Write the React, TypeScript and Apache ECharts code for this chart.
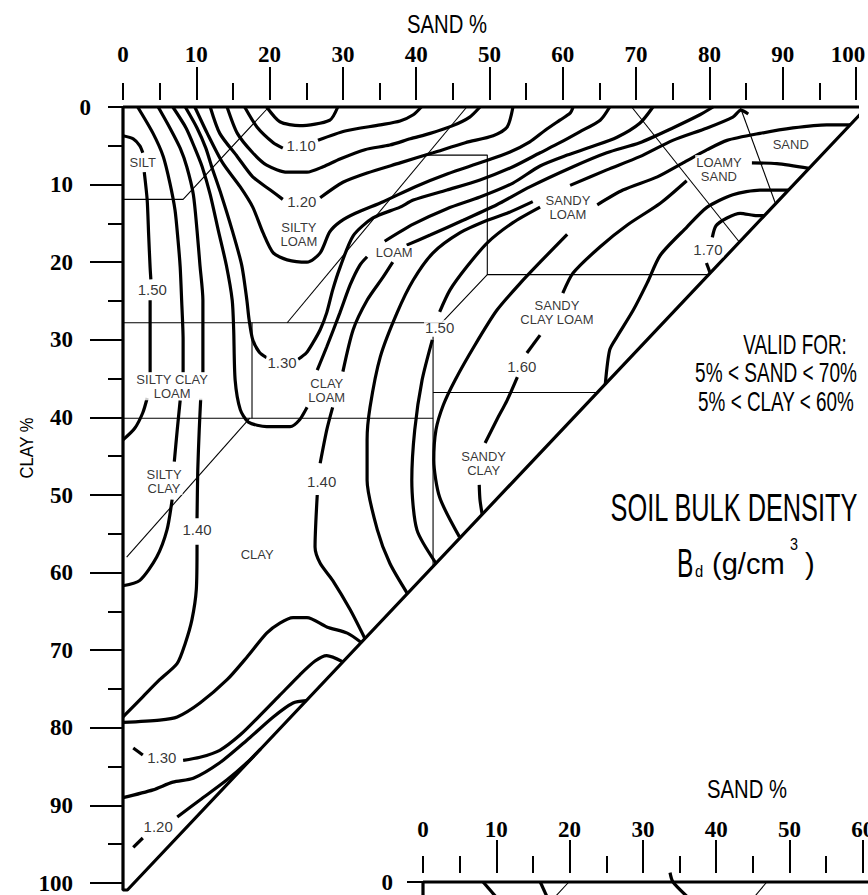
import React, { useEffect, useRef } from "react";
import * as echarts from "echarts";

// ---------- axis ticks ----------
const sandMajor = [10, 20, 30, 40, 50, 60, 70, 80, 90, 100];
const sandMinor = [0, 5, 15, 25, 35, 45, 55, 65, 75, 85, 95];
const sandLabels = [0, 10, 20, 30, 40, 50, 60, 70, 80, 90, 100];
const sandLabels2 = [0, 10, 20, 30, 40, 50, 60];
const clayMajor = [10, 20, 30, 40, 50, 60, 70, 80, 90, 100];
const clayMinor = [0, 5, 15, 25, 35, 45, 55, 65, 75, 85, 95];
const clayZero = [0];

// ---------- triangle outline (sand %, clay %) ----------
const outline = [[0, 0], [101.5, 0], [0.6, 100.9], [0, 100.9], [0, 0]];

// ---------- texture class boundaries (thin) ----------
const bSilt = [[0, 11.9], [8.2, 11.9], [19.9, 0]];
const bSiltLoam = [[46.9, 0], [22.4, 27.8]];
const bClayLoamTop = [[0, 27.8], [43.5, 27.8], [49.7, 21.6]];
const bLoamBox = [[41.6, 6.2], [49.7, 6.2], [49.7, 21.6], [79.9, 21.6]];
const bLoamySand = [[69.4, 0], [84.0, 17.3]];
const bSand = [[84.2, 0], [89.0, 12.4]];
const bSandyClayLoam = [[42.3, 36.8], [64.7, 36.8]];
const bSandyClay = [[42.3, 29.6], [42.3, 59.2]];
const bSiltyClayLoam = [[17.6, 27.8], [17.6, 40.1]];
const bClay40 = [[0, 40.1], [42.3, 40.1]];
const bSiltyClay = [[17.3, 40.1], [0.5, 58.0]];

// ---------- bulk density contours (sand %, clay %) ----------
const c105 = [[19.6, 0], [21.4, 1.9], [24.1, 2.4], [28.2, 1.7], [29.3, 0]];
const c110a = [[16.6, 0], [18.3, 2.6], [20.5, 4.6], [21.8, 5.3]];
const c110b = [[26.6, 4.3], [30.3, 3.1], [35.1, 2.3], [37.8, 1.8], [39.6, 1.0], [40.7, 0]];
const c115 = [[14.2, 0], [15.6, 3.4], [17.7, 5.9], [19.6, 7.5], [22.4, 8.4], [25.1, 8.4], [27.3, 7.7], [29.6, 6.7], [33.0, 5.5], [36.4, 4.9], [39.2, 4.1], [41.9, 3.4], [45.0, 2.4], [47.3, 1.3], [48.7, 0]];
const c120a = [[11.9, 0], [13.2, 3.4], [15.6, 6.4], [17.7, 9.0], [20.1, 10.7], [21.8, 11.9]];
const c120b = [[26.9, 11.7], [30.0, 9.7], [33.3, 8.5], [37.8, 7.2], [42.3, 5.9], [46.7, 4.6], [50.5, 3.7], [52.4, 2.6], [53.2, 0]];
const c125 = [[9.8, 0], [11.5, 3.4], [13.6, 7.2], [16.0, 10.3], [17.7, 12.9], [19.1, 16.2], [20.5, 18.8], [22.4, 19.7], [25.1, 20.0], [26.9, 18.8], [28.2, 16.1], [29.6, 14.8], [31.7, 13.7], [35.5, 12.2], [39.8, 10.3], [44.3, 8.6], [49.0, 7.1], [52.8, 5.8], [55.5, 4.5], [57.6, 3.0], [59.6, 1.7], [61.0, 0.8], [61.4, 0]];
const c130a = [[8.5, 0], [10.1, 2.7], [11.3, 5.3], [12.1, 7.7], [13.4, 11.3], [14.9, 15.9], [16.2, 20.4], [16.9, 24.9], [17.2, 27.4], [17.7, 30.0], [18.6, 31.6], [19.6, 32.3]];
const c130b = [[23.9, 32.5], [25.0, 31.7], [25.9, 30.4], [26.9, 28.7], [27.8, 26.5], [28.6, 23.6], [29.6, 20.7], [31.4, 16.6], [34.1, 14.3], [37.8, 12.9], [39.6, 12.0], [44.2, 10.7], [48.7, 9.4], [53.2, 7.7], [56.9, 5.9], [59.6, 4.6], [62.3, 3.2], [65.1, 1.7], [66.4, 0]];
const c135a = [[6.8, 0], [8.6, 2.7], [9.8, 5.3], [10.8, 7.7], [11.9, 11.3], [13.0, 15.9], [14.1, 20.4], [14.9, 24.9], [15.1, 28.7], [15.3, 35.2], [16.0, 39.0], [17.1, 40.6], [19.6, 41.2], [22.8, 41.2], [24.1, 40.3], [25.1, 38.7]];
const c135b = [[26.5, 33.9], [27.8, 30.9], [29.6, 26.5], [31.0, 22.9], [32.3, 20.4], [33.3, 19.3]];
const c135c = [[35.7, 17.3], [39.6, 15.1], [44.2, 13.1], [48.7, 11.6], [53.2, 9.8], [56.9, 7.6], [60.6, 6.2], [63.7, 5.2], [67.4, 3.9], [70.5, 2.1], [72.3, 0]];
const c140La = [[4.8, 0], [6.4, 2.7], [7.8, 5.3], [8.7, 7.7], [9.6, 11.3], [10.1, 15.9], [10.5, 20.4], [10.9, 24.9], [10.9, 30.0], [10.9, 34.2]];
const c140Lb = [[10.6, 37.6], [10.4, 41.6], [10.2, 46.8], [10.1, 53.0]];
const c140Lc = [[10.1, 56.4], [10.0, 62.2], [9.4, 66.1], [8.5, 69.1], [7.4, 71.7], [5.0, 73.8], [2.7, 76.0], [0, 78.6]];
const c140Ca = [[26.5, 50.0], [26.2, 56.7], [26.9, 58.8], [28.6, 61.0], [31.0, 64.8], [33.0, 68.5]];
const c140Cb = [[26.9, 45.9], [27.8, 41.6], [28.6, 38.7]];
const c140Cc = [[30.0, 34.1], [31.4, 28.7], [33.3, 24.9], [35.5, 21.9], [36.8, 20.0]];
const c140Cd = [[38.7, 17.8], [41.9, 16.5], [46.4, 14.6], [51.0, 12.6], [55.5, 10.3], [61.4, 7.7], [66.0, 5.9], [70.5, 4.6], [75.0, 2.7], [78.7, 1.0], [80.5, 0]];
const c145La = [[2.0, 0], [4.1, 3.4], [5.5, 6.4], [6.4, 9.8], [7.1, 13.3], [7.5, 17.1], [7.8, 20.6], [8.0, 24.9], [8.2, 30.0], [8.2, 34.2]];
const c145Lb = [[7.8, 37.8], [7.4, 41.6], [7.0, 45.7]];
const c145Lc = [[6.7, 50.6], [6.0, 54.5], [4.6, 58.0], [2.3, 61.0], [0, 61.7]];
const c145Ca = [[38.8, 62.7], [36.4, 58.8], [34.7, 54.5], [33.3, 48.1], [33.3, 42.9], [33.7, 38.7], [35.1, 32.2], [37.4, 26.5], [39.6, 22.3], [42.3, 18.8], [46.0, 16.2], [49.7, 14.6], [52.4, 13.7], [55.9, 12.2]];
const c145Cb = [[61.0, 10.1], [66.0, 8.1], [70.5, 6.4], [75.0, 4.3], [79.7, 2.7], [83.2, 1.3], [84.3, 0.4], [85.3, 0.9]];
const c150La = [[0, 3.7], [1.4, 4.1], [2.3, 5.0], [2.7, 5.9]];
const c150Lb = [[2.9, 8.4], [3.3, 12.0], [3.5, 16.5], [3.7, 20.7], [3.8, 22.2]];
const c150Lc = [[3.7, 24.9], [3.7, 30.0], [3.7, 34.2]];
const c150Ld = [[3.3, 37.5], [2.7, 39.4], [1.6, 41.4], [0, 42.9]];
const c150Ca = [[42.7, 58.8], [40.1, 54.5], [39.4, 48.1], [39.8, 41.6], [40.8, 35.2], [42.2, 30.0]];
const c150Cb = [[43.2, 26.4], [44.6, 23.6], [46.9, 20.6], [49.7, 17.5], [53.2, 14.9], [56.9, 12.9]];
const c150Cc = [[64.7, 12.6], [68.2, 10.7], [72.9, 9.0], [76.4, 7.2], [79.7, 5.5], [82.4, 4.3], [86.9, 3.4], [91.4, 2.7], [96.0, 2.3], [99.2, 2.3]];
const c155 = [[45.9, 55.4], [43.2, 50.3], [42.4, 45.5], [42.7, 41.6], [43.7, 38.4], [45.3, 35.2], [48.0, 30.7], [51.0, 26.2], [54.2, 22.7], [56.9, 20.0], [60.6, 16.4]];
const c160a = [[49.0, 52.5], [48.7, 50.6], [48.6, 48.7]];
const c160b = [[49.4, 43.3], [51.0, 40.3], [52.4, 37.8], [53.8, 34.8]];
const c160c = [[55.1, 31.7], [56.9, 29.4]];
const c160d = [[60.0, 24.0], [61.4, 21.4], [65.1, 18.0], [68.8, 15.2], [73.3, 12.4], [76.9, 9.5]];
const c160e = [[85.8, 7.2], [89.2, 7.3], [93.6, 7.9]];
const c165 = [[65.8, 35.7], [66.4, 31.3], [67.4, 29.6], [69.6, 26.2], [71.5, 22.7], [73.3, 19.1], [76.9, 15.5], [79.7, 12.9], [83.2, 11.3], [86.9, 10.7], [90.8, 10.7]];
const c170a = [[80.1, 21.4], [79.6, 20.1]];
const c170b = [[80.4, 16.8], [80.9, 15.3], [82.4, 14.3], [84.2, 13.7], [86.5, 14.0], [87.5, 14.0]];
const cLowA = [[0, 79.3], [5.0, 79.0], [7.4, 78.6], [10.5, 76.8], [14.2, 73.8], [16.9, 70.9], [19.6, 67.8], [21.4, 66.5], [23.2, 65.8], [25.1, 65.8], [27.8, 67.0], [30.6, 67.8], [32.5, 69.0]];
const c130Ba = [[1.4, 82.6], [2.7, 83.5]];
const c130Bb = [[8.2, 84.2], [10.5, 83.8], [13.2, 82.9], [16.0, 80.9], [18.7, 78.4], [21.4, 75.8], [24.1, 73.2], [26.2, 71.4], [27.8, 70.7], [30.0, 71.5]];
const cLowB = [[0, 89.0], [4.1, 88.0], [6.8, 87.0], [9.6, 86.5], [13.2, 84.5], [16.9, 81.6], [20.5, 78.6], [23.2, 76.8], [25.0, 76.5]];
const c120Ba = [[1.4, 95.4], [2.7, 94.2]];
const c120Bb = [[7.4, 91.5], [10.5, 89.3], [14.2, 86.7], [16.9, 84.5], [18.8, 82.7]];

// second (cropped) chart below: visible contour stubs
const s2a = [[8.2, 0], [10.5, 2.5]];
const s2b = [[16.0, 0], [17.2, 2.5]];
const s2c = [[33.7, -1.2], [34.1, 0], [36.4, 2.2]];

// ---------- labels ----------
const classNames = ["SILT", "SILTY\nLOAM", "LOAM", "SANDY\nLOAM", "LOAMY\nSAND", "SAND", "SANDY\nCLAY LOAM", "CLAY\nLOAM", "SILTY CLAY\nLOAM", "SILTY\nCLAY", "CLAY", "SANDY\nCLAY"];
const classAt = [[2.7, 7.1], [24.0, 16.4], [37.0, 18.8], [60.7, 12.9], [81.3, 8.0], [91.1, 4.8], [59.2, 26.5], [27.8, 36.5], [6.7, 36.0], [5.6, 48.2], [18.3, 57.7], [49.2, 45.9]];
const valueNames = ["1.10", "1.20", "1.30", "1.50", "1.50", "1.40", "1.40", "1.60", "1.70", "1.30", "1.20"];
const valueAt = [[24.3, 4.9], [24.4, 12.2], [21.7, 32.9], [4.0, 23.5], [43.2, 28.4], [27.1, 48.3], [10.1, 54.5], [54.4, 33.4], [79.8, 18.4], [5.3, 83.8], [4.8, 92.7]];

const contours = [
  c105, c110a, c110b, c115, c120a, c120b, c125, c130a, c130b, c135a, c135b, c135c,
  c140La, c140Lb, c140Lc, c140Ca, c140Cb, c140Cc, c140Cd, c145La, c145Lb, c145Lc, c145Ca, c145Cb,
  c150La, c150Lb, c150Lc, c150Ld, c150Ca, c150Cb, c150Cc, c155, c160a, c160b, c160c, c160d, c160e,
  c165, c170a, c170b, cLowA, c130Ba, c130Bb, cLowB, c120Ba, c120Bb,
];
const boundaries = [bSilt, bSiltLoam, bClayLoamTop, bLoamBox, bLoamySand, bSand, bSandyClayLoam, bSandyClay, bSiltyClayLoam, bClay40, bSiltyClay];
const stubs2 = [s2a, s2b, s2c];

const tickFont = { color: "#000", fontFamily: "Liberation Serif", fontWeight: "bold" as const, fontSize: 23 };
const tickLine = { color: "#000", width: 2 };

function line(data: number[][], g: number, width: number, smooth: number | boolean) {
  return {
    type: "line", data, xAxisIndex: g === 0 ? 0 : 2, yAxisIndex: g === 0 ? 0 : 2,
    symbol: "none", clip: false, silent: true, smooth,
    lineStyle: { color: "#000", width }, z: 3,
  };
}

function xAxes(grid: number, offset: number, margin: number, shiftLast: boolean, labels: number[]) {
  const base = { gridIndex: grid, type: "value", min: 0, max: 100, position: "top", offset, splitLine: { show: false } };
  return [
    { ...base, interval: 10, axisLine: { show: false, onZero: false },
      axisTick: { show: true, length: 33, customValues: sandMajor, lineStyle: tickLine },
      axisLabel: { ...tickFont, margin, customValues: labels,
        formatter: (v: number) => (shiftLast && v === 100 ? "{r|100}" : String(v)),
        rich: { r: { ...tickFont, padding: [0, 16, 0, 0] } } } },
    { ...base, interval: 5, axisLine: { show: false, onZero: false },
      axisTick: { show: true, length: 17, customValues: sandMinor, lineStyle: tickLine },
      axisLabel: { show: false } },
  ];
}

const txt = (text: string, x: number, y: number, fontSize: number, scaleX: number, align = "center", extra: any = {}) => ({
  type: "text", x, y, scaleX, ...extra,
  style: { text, fontSize, fontFamily: "Liberation Sans", fill: "#000", align, verticalAlign: "middle" },
});

const option = {
  animation: false,
  backgroundColor: "#fff",
  grid: [
    { left: 123, top: 107, width: 733, height: 776, outerBoundsMode: "none", containLabel: false },
    { left: 423, top: 882, width: 733, height: 776, outerBoundsMode: "none", containLabel: false },
  ],
  xAxis: [...xAxes(0, 7, 34, true, sandLabels), ...xAxes(1, 9, 32, false, sandLabels2)],
  yAxis: [
    { gridIndex: 0, type: "value", min: 0, max: 100, interval: 10, inverse: true, position: "left",
      axisLine: { show: false, onZero: false }, splitLine: { show: false },
      axisTick: { show: true, length: 33, customValues: clayMajor, lineStyle: tickLine },
      axisLabel: { ...tickFont, margin: 50, customValues: clayMajor } },
    { gridIndex: 0, type: "value", min: 0, max: 100, interval: 5, inverse: true, position: "left",
      axisLine: { show: false, onZero: false }, splitLine: { show: false },
      axisTick: { show: true, length: 15, customValues: clayMinor, lineStyle: tickLine },
      axisLabel: { ...tickFont, margin: 32, customValues: clayZero } },
    { gridIndex: 1, type: "value", min: 0, max: 100, interval: 10, inverse: true, position: "left",
      axisLine: { show: false, onZero: false }, splitLine: { show: false },
      axisTick: { show: true, length: 16, customValues: clayZero, lineStyle: tickLine },
      axisLabel: { ...tickFont, margin: 30, customValues: clayZero } },
  ],
  series: [
    line(outline, 0, 3.2, false),
    ...boundaries.map((b) => line(b, 0, 1.1, false)),
    ...contours.map((c) => line(c, 0, 3.2, 0.25)),
    line(outline, 1, 3.2, false),
    line(bSilt, 1, 1.1, false),
    line(bSiltLoam, 1, 1.1, false),
    ...stubs2.map((c) => line(c, 1, 3.2, 0.25)),
    {
      type: "scatter", xAxisIndex: 0, yAxisIndex: 0, symbolSize: 1, silent: true, z: 10,
      itemStyle: { color: "rgba(0,0,0,0)" },
      label: { show: true, position: "inside", formatter: (p: any) => p.name, color: "#000",
        fontFamily: "Liberation Sans", fontSize: 13, lineHeight: 14, backgroundColor: "#fff", padding: [0, 1] },
      data: classNames.map((n, i) => ({ name: n, value: classAt[i] })),
    },
    {
      type: "scatter", xAxisIndex: 0, yAxisIndex: 0, symbolSize: 1, silent: true, z: 10,
      itemStyle: { color: "rgba(0,0,0,0)" },
      label: { show: true, position: "inside", formatter: (p: any) => p.name, color: "#000",
        fontFamily: "Liberation Sans", fontSize: 15, backgroundColor: "#fff", padding: [0, 1] },
      data: valueNames.map((n, i) => ({ name: n, value: valueAt[i] })),
    },
  ],
  graphic: [
    txt("SAND %", 447, 24, 25, 0.81),
    txt("SAND %", 747, 789, 25, 0.81),
    txt("CLAY %", 27, 448, 18, 0.92, "center", { rotation: Math.PI / 2 }),
    txt("VALID FOR:", 795, 345, 27, 0.7),
    txt("5% < SAND < 70%", 776, 373, 27, 0.705),
    txt("5% < CLAY < 60%", 776, 402, 27, 0.7),
    txt("SOIL BULK DENSITY", 734, 508, 38, 0.667),
    txt("B", 677, 562, 41, 0.6, "left"),
    txt("d", 695, 571, 17, 0.87, "left"),
    txt("(g/cm", 712, 563, 30, 0.97, "left"),
    txt("3", 790, 544, 16, 0.9, "left"),
    txt(")", 805, 563, 30, 0.97, "left"),
  ],
};

export default function App() {
  const ref = useRef<HTMLDivElement>(null);
  useEffect(() => {
    const chart = echarts.init(ref.current as HTMLDivElement, null, { renderer: "svg" });
    chart.setOption(option as any);
    return () => chart.dispose();
  }, []);
  return (
    <div
      ref={ref}
      style={{ position: "absolute", left: 0, top: 0, width: 868, height: 895, background: "#fff" }}
    />
  );
}
